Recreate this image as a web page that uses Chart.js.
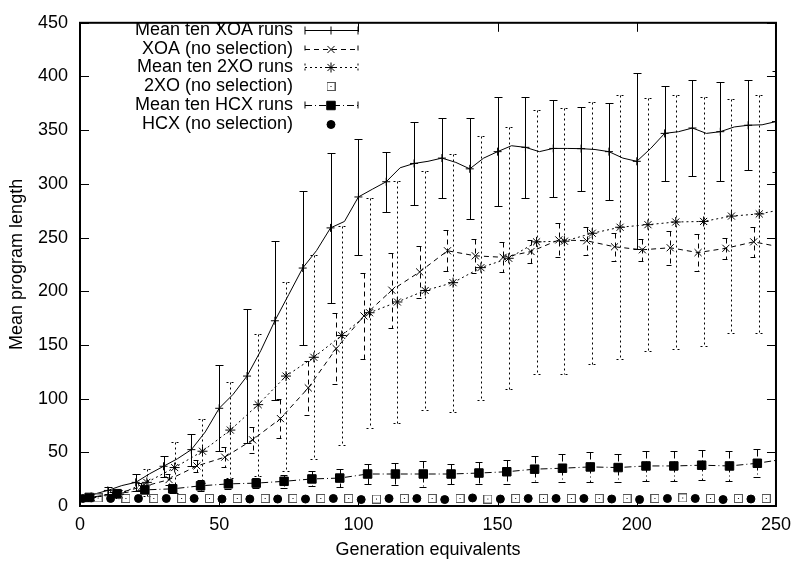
<!DOCTYPE html>
<html>
<head>
<meta charset="utf-8">
<script src="https://cdn.jsdelivr.net/npm/chart.js@4.4.1/dist/chart.umd.min.js"></script>
<style>
  html, body { margin: 0; background: #fff; }
  #wrap { width: 799px; height: 562px; }
</style>
</head>
<body>
<div id="wrap"><canvas id="myChart"></canvas></div>
<script>
// values
const seriesLabels = ['Mean ten XOA runs', 'XOA (no selection)', 'Mean ten 2XO runs',
                      '2XO (no selection)', 'Mean ten HCX runs', 'HCX (no selection)'];
const xTitle = 'Generation equivalents';
const yTitle = 'Mean program length';

// XOA mean, every 5 generations
const xoaLineGen = [0, 5, 10, 15, 20, 25, 30, 35, 40, 45, 50, 55, 60, 65, 70, 75, 80, 85, 90, 95,
                    100, 105, 110, 115, 120, 125, 130, 135, 140, 145, 150, 155, 160, 165, 170, 175,
                    180, 185, 190, 195, 200, 205, 210, 215, 220, 225, 230, 235, 240, 245, 250];
const xoaLine = [7, 11, 14.5, 19, 22, 30, 37, 44, 52.5, 69, 91, 104, 121, 145, 172.5, 197, 221.6, 238,
                 259, 265, 287.8, 295, 302, 315, 319, 321, 324, 320, 314, 324, 330, 335.5, 334, 330,
                 333, 333, 332.8, 332, 330, 324, 321, 333, 347, 348.6, 352, 347, 348.6, 353, 354.6, 355, 358];
const xoaBarGen = [10, 20, 30, 40, 50, 60, 70, 80, 90, 100, 110, 120, 130, 140, 150, 160, 170, 180,
                   190, 200, 210, 220, 230, 240, 250];
const xoaMean = [14.5, 22, 37, 52.5, 91, 121, 172.5, 221.6, 259, 287.8, 302, 319, 324, 314, 330, 334,
                 333, 332.8, 330, 321, 347, 352, 348.6, 354.6, 358];
const xoaErr = [3, 8, 10, 15, 40, 62, 74, 72, 70, 54, 28, 39, 37, 47, 51, 47, 45, 39, 45, 82, 44, 45, 46, 42, 47];

// XOA without selection
const xsGen = [2, 12, 22, 32, 42, 52, 62, 72, 82, 92, 102, 112, 122, 132, 142, 152, 162, 172, 182,
               192, 202, 212, 222, 232, 242];
const xsMean = [7, 11, 17.6, 24.6, 37.3, 45.5, 61.6, 81.4, 110, 146.6, 177, 201, 218, 237.7, 233,
                231.6, 237, 247.8, 247, 241.4, 238.6, 240.5, 236, 240, 246];
const xsErr = [0.5, 2, 4, 5, 6, 9, 12, 18, 25, 33, 40, 35, 24, 19, 16, 14, 11, 16, 13, 13, 10, 16, 17, 10, 14];
const xsLineGen = [0, 2, 12, 22, 32, 42, 52, 62, 72, 82, 92, 102, 112, 122, 132, 142, 152, 162, 172,
                   182, 192, 202, 212, 222, 232, 242, 250];
const xsLine = [6, 7, 11, 17.6, 24.6, 37.3, 45.5, 61.6, 81.4, 110, 146.6, 177, 201, 218, 237.7, 233,
                231.6, 237, 247.8, 247, 241.4, 238.6, 240.5, 236, 240, 246, 242];

// 2XO mean
const txGen = [4, 14, 24, 34, 44, 54, 64, 74, 84, 94, 104, 114, 124, 134, 144, 154, 164, 174, 184,
               194, 204, 214, 224, 234, 244];
const txMean = [8, 11, 22, 35.8, 51, 70.7, 94.4, 121, 138.5, 158.8, 180, 190, 200.7, 208, 222, 230.7,
                246, 246.6, 254, 259.6, 262, 264.5, 265, 270, 272];
const txErr = [1, 4, 12.6, 24, 30, 45, 66, 88, 95, 102, 107, 113, 111, 120, 123, 122, 123, 124, 122,
               123, 118, 118, 116, 109, 111];
const txLineGen = [0, 4, 14, 24, 34, 44, 54, 64, 74, 84, 94, 104, 114, 124, 134, 144, 154, 164, 174,
                   184, 194, 204, 214, 224, 234, 244, 250];
const txLine = [6, 8, 11, 22, 35.8, 51, 70.7, 94.4, 121, 138.5, 158.8, 180, 190, 200.7, 208, 222,
                230.7, 246, 246.6, 254, 259.6, 262, 264.5, 265, 270, 272, 275];

// 2XO without selection
const tnGen = [6.5, 16.5, 26.5, 36.5, 46.5, 56.5, 66.5, 76.5, 86.5, 96.5, 106.5, 116.5, 126.5, 136.5,
               146.5, 156.5, 166.5, 176.5, 186.5, 196.5, 206.5, 216.5, 226.5, 236.5, 246.5];
const tnVal = [7.5, 7, 7, 7, 7, 7, 7, 7, 7, 7, 6.5, 7, 7, 7, 6.5, 7, 7, 7, 7, 7, 7, 7.5, 7, 7, 7];

// HCX mean
const hcGen = [3.3, 13.3, 23.3, 33.3, 43.3, 53.3, 63.3, 73.3, 83.3, 93.3, 103.3, 113.3, 123.3, 133.3,
               143.3, 153.3, 163.3, 173.3, 183.3, 193.3, 203.3, 213.3, 223.3, 233.3, 243.3];
const hcMean = [8, 11.5, 15, 16, 18.8, 20.6, 21.3, 23, 25.2, 26, 29.8, 29.8, 29.8, 29.8, 30.7, 31.9,
                34.3, 35.2, 36.4, 35.8, 37.3, 37.3, 38, 37.3, 39.8];
const hcErr = [0.5, 2, 3, 4, 5, 5, 5, 6, 7, 8.5, 9.5, 10, 12, 9.5, 10, 11, 12, 13, 14, 13, 14, 14, 14, 14, 13];
const hcLineGen = [0, 3.3, 13.3, 23.3, 33.3, 43.3, 53.3, 63.3, 73.3, 83.3, 93.3, 103.3, 113.3, 123.3,
                   133.3, 143.3, 153.3, 163.3, 173.3, 183.3, 193.3, 203.3, 213.3, 223.3, 233.3, 243.3, 250];
const hcLine = [7, 8, 11.5, 15, 16, 18.8, 20.6, 21.3, 23, 25.2, 26, 29.8, 29.8, 29.8, 29.8, 30.7, 31.9,
                34.3, 35.2, 36.4, 35.8, 37.3, 37.3, 38, 37.3, 39.8, 42.5];

// HCX without selection
const hnGen = [1, 11, 21, 31, 41, 51, 61, 71, 81, 91, 101, 111, 121, 131, 141, 151, 161, 171, 181,
               191, 201, 211, 221, 231, 241];
const hnVal = [7, 7, 7, 7, 7, 6.5, 6.5, 6.5, 6.5, 7, 6, 7, 7, 6, 7.5, 6.5, 7, 7, 7, 6.5, 6, 7, 7, 6, 6.5];

const pts = (xs, ys) => xs.map((v, i) => ({ x: v, y: ys[i] }));

// open square with a dot, like gnuplot's point type 4 on this terminal
const openSq = document.createElement('canvas');
openSq.width = 9; openSq.height = 9;
const g = openSq.getContext('2d');
g.strokeStyle = '#555';
g.lineWidth = 1;
g.strokeRect(0.5, 0.5, 8, 8);
g.fillStyle = '#000';
g.fillRect(4, 4, 1, 1);

const dashXoa = [];
const dashXs = [5, 4];
const dashTx = [2, 3];
const dashHc = [7, 3, 1, 3];

function markerSet(label, data, style, radius, errors, dash) {
    return {
        label: label,
        data: data,
        showLine: false,
        pointStyle: style,
        pointRadius: radius,
        pointHoverRadius: radius,
        pointBorderWidth: 1,
        pointBorderColor: '#000',
        pointBackgroundColor: '#000',
        errors: errors,
        barDash: dash,
    };
}

function lineSet(data, dash) {
    return {
        data: data,
        showLine: true,
        borderColor: '#000',
        borderWidth: 1,
        borderDash: dash,
        pointRadius: 0,
        tension: 0,
        fill: false,
    };
}

const errorBars = {
    id: 'errorBars',
    beforeDatasetsDraw(chart) {
        const { ctx, chartArea: a, scales: { x, y } } = chart;
        ctx.save();
        ctx.beginPath();
        ctx.rect(a.left, a.top, a.width, a.height);
        ctx.clip();
        ctx.strokeStyle = '#000';
        ctx.lineWidth = 1;
        chart.data.datasets.forEach(ds => {
            if (!ds.errors) return;
            ctx.setLineDash(ds.barDash);
            ds.data.forEach((p, i) => {
                const e = ds.errors[i];
                const px = Math.round(x.getPixelForValue(p.x)) + 0.5;
                const top = Math.round(y.getPixelForValue(p.y + e)) + 0.5;
                const bot = Math.round(y.getPixelForValue(p.y - e)) + 0.5;
                ctx.beginPath();
                ctx.moveTo(px, top); ctx.lineTo(px, bot);
                ctx.moveTo(px - 4, top); ctx.lineTo(px + 4, top);
                ctx.moveTo(px - 4, bot); ctx.lineTo(px + 4, bot);
                ctx.stroke();
            });
        });
        ctx.restore();
    }
};

const frame = {
    id: 'frame',
    afterDraw(chart) {
        const { ctx, chartArea: a, scales: { x, y } } = chart;
        ctx.save();
        ctx.strokeStyle = '#000';
        ctx.lineWidth = 1;
        ctx.beginPath();
        x.ticks.forEach(t => {
            const px = Math.round(x.getPixelForValue(t.value)) + 0.5;
            ctx.moveTo(px, a.bottom); ctx.lineTo(px, a.bottom - 9);
            ctx.moveTo(px, a.top); ctx.lineTo(px, a.top + 9);
        });
        y.ticks.forEach(t => {
            const py = Math.round(y.getPixelForValue(t.value)) + 0.5;
            ctx.moveTo(a.left, py); ctx.lineTo(a.left + 9, py);
            ctx.moveTo(a.right, py); ctx.lineTo(a.right - 9, py);
        });
        ctx.stroke();
        ctx.lineWidth = 2;
        ctx.strokeRect(a.left, a.top, a.width, a.height);

        ctx.fillStyle = '#000';
        ctx.font = '18px "Liberation Sans", Arial, sans-serif';
        ctx.textAlign = 'center';
        ctx.textBaseline = 'alphabetic';
        ctx.fillText(xTitle, (a.left + a.right) / 2, 555);
        ctx.save();
        ctx.translate(22, (a.top + a.bottom) / 2);
        ctx.rotate(-Math.PI / 2);
        ctx.fillText(yTitle, 0, 0);
        ctx.restore();

        // gnuplot style key, top left
        ctx.textAlign = 'right';
        ctx.textBaseline = 'middle';
        ctx.lineWidth = 1;
        chart.data.datasets.filter(ds => ds.label).forEach((ds, k) => {
            const ly = Math.round(30 + k * 18.7) + 0.5;
            ctx.fillText(ds.label, 293, ly);
            if (ds.errors) {
                ctx.setLineDash(ds.barDash);
                ctx.beginPath();
                ctx.moveTo(305, ly); ctx.lineTo(358, ly);
                ctx.moveTo(305, ly - 4); ctx.lineTo(305, ly + 4);
                ctx.moveTo(358, ly - 4); ctx.lineTo(358, ly + 4);
                ctx.stroke();
                ctx.setLineDash([]);
            }
            ctx.fillStyle = '#000';
            Chart.helpers.drawPoint(ctx, { pointStyle: ds.pointStyle, radius: ds.pointRadius, borderWidth: 1, rotation: 0 }, 331, ly);
        });
        ctx.restore();
    }
};

Chart.defaults.font.family = '"Liberation Sans", Arial, sans-serif';
Chart.defaults.font.size = 18;
Chart.defaults.color = '#000';

new Chart(document.getElementById('myChart'), {
    type: 'scatter',
    data: {
        datasets: [
            markerSet(seriesLabels[0], pts(xoaBarGen, xoaMean), 'cross', 4, xoaErr, dashXoa),
            markerSet(seriesLabels[1], pts(xsGen, xsMean), 'crossRot', 5, xsErr, dashXs),
            markerSet(seriesLabels[2], pts(txGen, txMean), 'star', 5, txErr, dashTx),
            markerSet(seriesLabels[3], pts(tnGen, tnVal), openSq, 4.5, null, null),
            markerSet(seriesLabels[4], pts(hcGen, hcMean), 'rect', 6, hcErr, dashHc),
            markerSet(seriesLabels[5], pts(hnGen, hnVal), 'circle', 4, null, null),
            lineSet(pts(xoaLineGen, xoaLine), dashXoa),
            lineSet(pts(xsLineGen, xsLine), dashXs),
            lineSet(pts(txLineGen, txLine), dashTx),
            lineSet(pts(hcLineGen, hcLine), dashHc),
        ],
    },
    options: {
        responsive: true,
        maintainAspectRatio: false,
        animation: false,
        layout: { padding: { left: 0, right: 18, top: 12, bottom: 0 } },
        plugins: {
            legend: { display: false },
            tooltip: { enabled: false },
        },
        scales: {
            x: {
                type: 'linear',
                min: 0,
                max: 250,
                ticks: { stepSize: 50, padding: 8 },
                grid: { display: false, drawTicks: false },
                border: { display: false },
                afterFit(scale) { scale.height = 56; },
            },
            y: {
                type: 'linear',
                min: 0,
                max: 450,
                ticks: { stepSize: 50, padding: 12 },
                grid: { display: false, drawTicks: false },
                border: { display: false },
                afterFit(scale) { scale.width = 80; },
            },
        },
    },
    plugins: [errorBars, frame],
});
</script>
</body>
</html>
